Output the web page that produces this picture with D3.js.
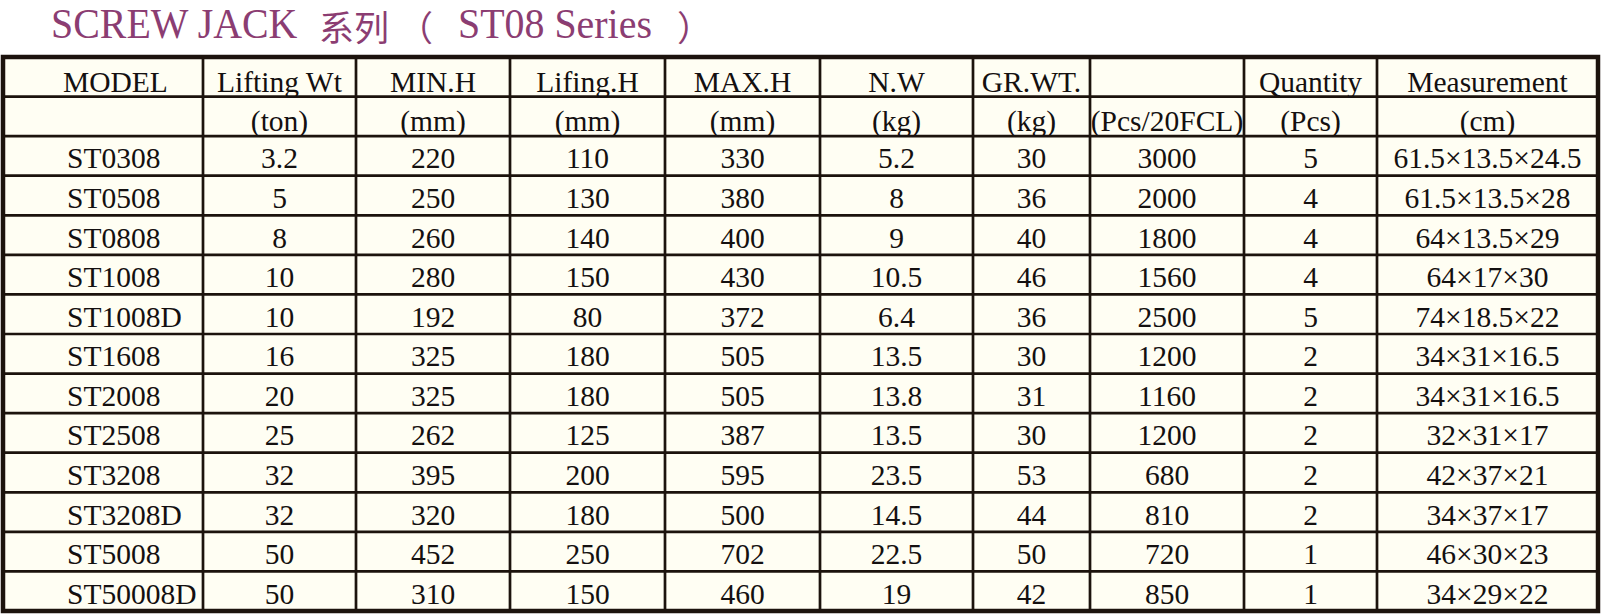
<!DOCTYPE html>
<html>
<head>
<meta charset="utf-8">
<script src="https://cdn.jsdelivr.net/npm/d3@7/dist/d3.min.js"></script>
<style>
  html, body { margin: 0; padding: 0; background: #ffffff; }
  svg { display: block; }
</style>
</head>
<body>
<svg id="chart" width="1603" height="615"></svg>
<script>
// ---------- data ----------
const headerRow1 = ["MODEL", "Lifting Wt", "MIN.H", "Lifing.H", "MAX.H", "N.W", "GR.WT.", "", "Quantity", "Measurement"];
const headerRow2 = ["", "(ton)", "(mm)", "(mm)", "(mm)", "(kg)", "(kg)", "(Pcs/20FCL)", "(Pcs)", "(cm)"];
const models      = ["ST0308", "ST0508", "ST0808", "ST1008", "ST1008D", "ST1608", "ST2008", "ST2508", "ST3208", "ST3208D", "ST5008", "ST50008D"];
const liftingWt   = ["3.2", "5", "8", "10", "10", "16", "20", "25", "32", "32", "50", "50"];
const minH        = ["220", "250", "260", "280", "192", "325", "325", "262", "395", "320", "452", "310"];
const liftingH    = ["110", "130", "140", "150", "80", "180", "180", "125", "200", "180", "250", "150"];
const maxH        = ["330", "380", "400", "430", "372", "505", "505", "387", "595", "500", "702", "460"];
const netWt       = ["5.2", "8", "9", "10.5", "6.4", "13.5", "13.8", "13.5", "23.5", "14.5", "22.5", "19"];
const grossWt     = ["30", "36", "40", "46", "36", "30", "31", "30", "53", "44", "50", "42"];
const pcsPer20FCL = ["3000", "2000", "1800", "1560", "2500", "1200", "1160", "1200", "680", "810", "720", "850"];
const quantity    = ["5", "4", "4", "4", "5", "2", "2", "2", "2", "2", "1", "1"];
const measurement = ["61.5×13.5×24.5", "61.5×13.5×28", "64×13.5×29", "64×17×30", "74×18.5×22", "34×31×16.5", "34×31×16.5", "32×31×17", "42×37×21", "34×37×17", "46×30×23", "34×29×22"];
const titleParts  = ["SCREW JACK", "系列", "（", "ST08 Series", "）"];

// ---------- layout ----------
const colEdges = [3, 203, 356, 510, 665, 820, 973, 1090, 1244, 1377, 1598];
const tableTop = 57, tableBottom = 611;
const lineColor = "#1c130d";
const textColor = "#141010";
const cellFill = "#fffef3";
const titleColor = "#8b3d72";

const columns = [models, liftingWt, minH, liftingH, maxH, netWt, grossWt, pcsPer20FCL, quantity, measurement];
const rows = [headerRow1, headerRow2].concat(models.map((m, i) => columns.map(c => c[i])));

const svg = d3.select("#chart");

const y = d3.scaleBand().domain(d3.range(rows.length)).range([tableTop, tableBottom]).paddingInner(0).paddingOuter(0);
const colIdx = d3.range(colEdges.length - 1);
const xLeft = d3.scaleOrdinal().domain(colIdx).range(colEdges.slice(0, -1));
const xRight = d3.scaleOrdinal().domain(colIdx).range(colEdges.slice(1));

// title
const title = svg.append("g");
const titleX = [51, 319, 398, 458, 677];
const titleY = [38, 41, 41, 38, 41];
const isSerif = [true, false, false, true, false];
const titleSizes = [42, 35, 35, 42, 35];
title.selectAll("text").data(titleParts).join("text")
  .attr("transform", (d, i) => `translate(${titleX[i]},${titleY[i]}) scale(${isSerif[i] ? 0.95 : 1},1)`)
  .attr("font-family", (d, i) => isSerif[i] ? "Liberation Serif" : "Noto Sans CJK SC")
  .attr("font-size", (d, i) => titleSizes[i])
  .attr("font-weight", 400)
  .attr("fill", titleColor)
  .text(d => d);

// table background
svg.append("rect")
  .attr("x", colEdges[0]).attr("y", tableTop)
  .attr("width", colEdges[colEdges.length - 1] - colEdges[0])
  .attr("height", tableBottom - tableTop)
  .attr("fill", cellFill);

// horizontal lines
const g = svg.append("g");
g.selectAll("line.h").data(d3.range(1, rows.length)).join("line")
  .attr("class", "h")
  .attr("x1", colEdges[0]).attr("x2", colEdges[colEdges.length - 1])
  .attr("y1", d => y(d)).attr("y2", d => y(d))
  .attr("stroke", lineColor).attr("stroke-width", 2.7);

// vertical lines
g.selectAll("line.v").data(colEdges.slice(1, -1)).join("line")
  .attr("class", "v")
  .attr("x1", d => d).attr("x2", d => d)
  .attr("y1", tableTop).attr("y2", tableBottom)
  .attr("stroke", lineColor).attr("stroke-width", 2.7);

// outer border
g.append("rect")
  .attr("x", colEdges[0]).attr("y", tableTop)
  .attr("width", colEdges[colEdges.length - 1] - colEdges[0])
  .attr("height", tableBottom - tableTop)
  .attr("fill", "none")
  .attr("stroke", lineColor).attr("stroke-width", 4.5);

// cell text
const cells = [];
rows.forEach((r, ri) => r.forEach((v, ci) => { if (v !== "") cells.push({ ri, ci, v }); }));

svg.append("g").selectAll("text").data(cells).join("text")
  .attr("x", d => d.ci === 0 ? (d.ri === 0 ? 63 : 67) : (xLeft(d.ci) + xRight(d.ci)) / 2)
  .attr("y", d => y(d.ri) + y.bandwidth() / 2 + (d.ri < 2 ? 15 : 12.5))
  .attr("text-anchor", d => d.ci === 0 ? "start" : "middle")
  .attr("font-family", "Liberation Serif, 'Times New Roman', serif")
  .attr("font-size", 29.5)
  .attr("fill", textColor)
  .text(d => d.v);
</script>
</body>
</html>
